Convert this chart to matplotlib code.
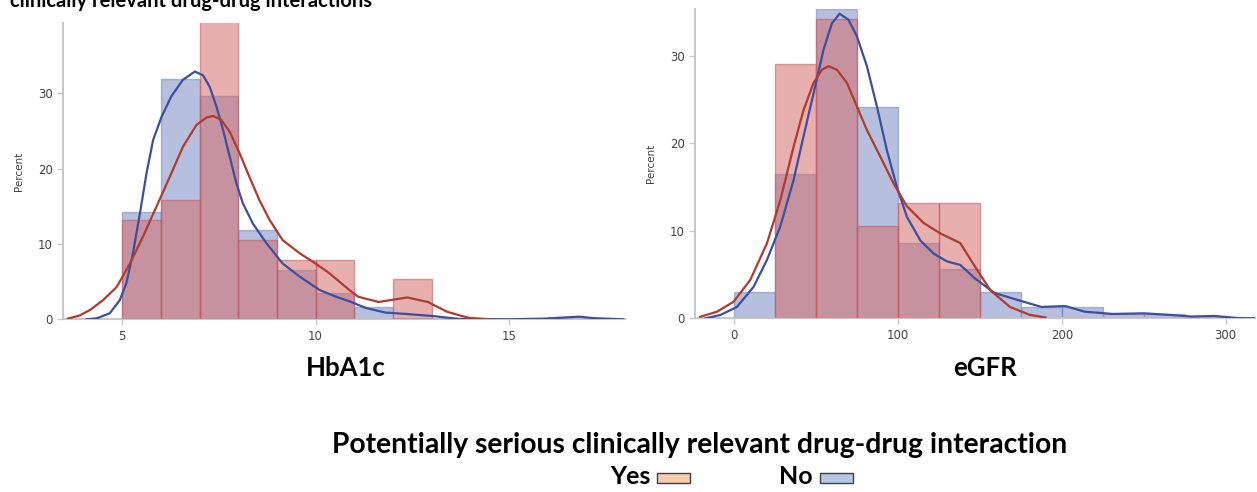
import numpy as np
import matplotlib
matplotlib.use('Agg')
import matplotlib.pyplot as plt
from matplotlib.patches import Rectangle

## HbA1c histogram (percent), bins of width 1 starting at 5
hba_edges = [5, 6, 7, 8, 9, 10, 11, 12, 13, 14, 15, 16, 17]
hba_no = [14.2, 31.9, 29.6, 11.9, 6.6, 3.5, 1.6, 0, 0, 0, 0, 0.3]
hba_yes = [13.2, 15.8, 40.5, 10.5, 7.9, 7.9, 0, 5.3, 0, 0, 0, 0]

## eGFR histogram (percent), bins of width 25 starting at 0
egfr_edges = [0, 25, 50, 75, 100, 125, 150, 175, 200, 225, 250, 275, 300]
egfr_no = [3.05, 16.5, 35.3, 24.1, 8.65, 5.6, 3.05, 1.3, 1.3, 0.45, 0.5, 0.27]
egfr_yes = [0, 29.0, 34.2, 10.5, 13.15, 13.15, 0, 0, 0, 0, 0, 0]

## density curves, points
hba_kde_no_x = [4.08, 4.34, 4.68, 4.94, 5.11, 5.28, 5.46, 5.63, 5.80, 6.02, 6.27, 6.57, 6.88,
                7.09, 7.26, 7.44, 7.61, 7.78, 7.95, 8.12, 8.38, 8.73, 9.15, 9.58, 10.1, 10.53,
                10.87, 11.3, 11.8, 12.37, 13.0, 13.7, 15.0, 16.0, 16.8, 17.2, 17.95]
hba_kde_no_y = [0, 0.13, 0.8, 2.56, 4.8, 8.8, 14.1, 19.4, 23.8, 26.9, 29.6, 31.8, 32.9,
                32.4, 30.9, 28.2, 25.1, 21.6, 18.1, 15.4, 12.7, 10.1, 7.4, 5.7, 3.9, 3.0,
                2.4, 1.5, 0.9, 0.7, 0.45, 0.05, 0.0, 0.1, 0.35, 0.15, 0]
hba_kde_yes_x = [3.6, 3.9, 4.17, 4.51, 4.86, 5.2, 5.54, 5.89, 6.23, 6.57, 6.92, 7.18, 7.35,
                 7.56, 7.78, 8.04, 8.29, 8.55, 8.81, 9.15, 9.58, 10.0, 10.36, 10.87, 11.1,
                 11.63, 12.0, 12.37, 12.9, 13.4, 13.95, 14.5]
hba_kde_yes_y = [0.1, 0.5, 1.24, 2.56, 4.3, 7.4, 11.0, 15.0, 18.9, 22.9, 25.8, 26.8, 27.0,
                 26.5, 24.9, 22.0, 18.9, 15.8, 13.2, 10.5, 8.8, 7.4, 6.1, 3.9, 3.0,
                 2.3, 2.6, 2.9, 2.3, 1.0, 0.2, 0]

egfr_kde_no_x = [-17.7, -8.5, 1.6, 11.8, 20, 28.1, 36.2, 42.3, 48.4, 54.5, 59.6, 64.3, 69.8,
                 74.9, 81, 87.1, 93.2, 99.3, 105.4, 113.6, 121.7, 129.9, 138, 146.7, 158.8,
                 173, 187.6, 202, 214, 231, 250, 267, 279, 293, 308, 318]
egfr_kde_no_y = [0, 0.38, 1.3, 3.6, 6.7, 10.5, 15.8, 20.8, 25.7, 30.7, 33.7, 34.8, 34.1,
                 32.2, 28.8, 24.2, 19.2, 15.0, 11.6, 8.9, 7.4, 6.5, 6.1, 4.6, 2.9,
                 2.1, 1.3, 1.4, 0.76, 0.5, 0.57, 0.38, 0.2, 0.27, 0.02, 0]
egfr_kde_yes_x = [-20.8, -10.6, -0.4, 9.8, 20, 28.1, 36.2, 42.3, 48.4, 53.5, 57.6, 62.7, 68.8,
                  74.9, 81, 89.1, 97.3, 105.4, 115.6, 125.8, 138, 146.7, 156.4, 168.4, 180.4, 190]
egfr_kde_yes_y = [0.18, 0.75, 1.9, 4.4, 8.6, 13.5, 19.6, 23.8, 26.9, 28.4, 28.8, 28.4, 26.9,
                  24.2, 21.5, 18.5, 15.4, 12.8, 10.9, 9.7, 8.6, 6.0, 3.2, 1.3, 0.4, 0.1]

BLUE_FILL = '#7486c0'
BLUE_EDGE = '#7083bd'
BLUE_LINE = '#3b4f9f'
RED_FILL = '#d66d6d'
RED_EDGE = '#c45456'
RED_LINE = '#b03a2e'
AXIS_GRAY = '#c8c8c8'
TEXT_GRAY = '#444444'


def draw_hist(ax, edges, no_vals, yes_vals):
    widths = np.diff(edges)
    ax.bar(edges[:-1], no_vals, width=widths, align='edge', color=BLUE_FILL, alpha=0.52,
           edgecolor=BLUE_EDGE, linewidth=1.0, zorder=2)
    ax.bar(edges[:-1], yes_vals, width=widths, align='edge', color=RED_FILL, alpha=0.55,
           edgecolor=RED_EDGE, linewidth=1.0, zorder=3)


def style_axes(ax):
    for side in ('top', 'right'):
        ax.spines[side].set_visible(False)
    for side in ('left', 'bottom'):
        ax.spines[side].set_color(AXIS_GRAY)
        ax.spines[side].set_linewidth(1.5)
    ax.tick_params(colors=AXIS_GRAY, labelcolor=TEXT_GRAY, labelsize=8.5, length=4, width=1)
    ax.set_ylabel('Percent', fontsize=7.5, color=TEXT_GRAY, labelpad=10,
                  fontfamily='Liberation Sans Narrow')
    ax.set_yticks([0, 10, 20, 30])


fig = plt.figure(figsize=(12.57, 4.92), dpi=100)

## left panel: HbA1c
ax1 = fig.add_axes([0.0504, 0.351, 0.4469, 0.6016])
draw_hist(ax1, hba_edges, hba_no, hba_yes)
ax1.plot(hba_kde_no_x, hba_kde_no_y, color=BLUE_LINE, lw=1.6, zorder=4, solid_joinstyle='round')
ax1.plot(hba_kde_yes_x, hba_kde_yes_y, color=RED_LINE, lw=1.6, zorder=5, solid_joinstyle='round')
ax1.set_xlim(3.48, 18.0)
ax1.set_ylim(0, 39.3)
ax1.set_xticks([5, 10, 15])
style_axes(ax1)

## right panel: eGFR
ax2 = fig.add_axes([0.5529, 0.353, 0.4455, 0.628])
draw_hist(ax2, egfr_edges, egfr_no, egfr_yes)
ax2.plot(egfr_kde_no_x, egfr_kde_no_y, color=BLUE_LINE, lw=1.6, zorder=4, solid_joinstyle='round')
ax2.plot(egfr_kde_yes_x, egfr_kde_yes_y, color=RED_LINE, lw=1.6, zorder=5, solid_joinstyle='round')
ax2.set_xlim(-24, 318)
ax2.set_ylim(0, 35.3)
ax2.set_xticks([0, 100, 200, 300])
style_axes(ax2)

## labels and titles
bold = dict(fontfamily='Lato', fontweight='bold', color='black')
fig.text(346 / 1257, 1 - 368 / 492, 'HbA1c', ha='center', va='center', fontsize=18.5, **bold)
fig.text(985 / 1257, 1 - 368 / 492, 'eGFR', ha='center', va='center', fontsize=18.5, **bold)
fig.text(10 / 1257, 1 - 7 / 492, 'clinically relevant drug-drug interactions',
         ha='left', va='baseline', fontsize=14.5, **bold)
fig.text(700 / 1257, 1 - 445 / 492, 'Potentially serious clinically relevant drug-drug interaction',
         ha='center', va='center', fontsize=20.3, **bold)
fig.text(651 / 1257, 1 - 477 / 492, 'Yes', ha='right', va='center', fontsize=18, **bold)
fig.text(813 / 1257, 1 - 477 / 492, 'No', ha='right', va='center', fontsize=18, **bold)

## legend swatches
fig.patches.append(Rectangle((657 / 1257, 1 - 483 / 492), 33 / 1257, 10 / 492,
                             transform=fig.transFigure, facecolor='#f8cbad',
                             edgecolor='#404040', linewidth=1.0))
fig.patches.append(Rectangle((820 / 1257, 1 - 483 / 492), 33 / 1257, 10 / 492,
                             transform=fig.transFigure, facecolor='#b4c7e7',
                             edgecolor='#404040', linewidth=1.0))

fig.savefig('out.png', dpi=100)
